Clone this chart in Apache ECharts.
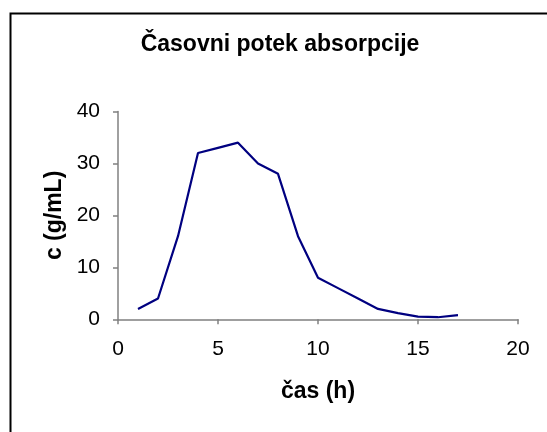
<!DOCTYPE html>
<html>
<head>
<meta charset="utf-8">
<script src="https://cdn.jsdelivr.net/npm/echarts@6/dist/echarts.min.js"></script>
<style>
  html, body { margin: 0; padding: 0; background: #fff; }
  #chart { width: 547px; height: 432px; }
</style>
</head>
<body>
<div id="chart"></div>
<script>
// čas (h) in koncentracija c (g/mL), odčitano s slike
var hours = [1, 2, 3, 4, 5, 6, 7, 8, 9, 10, 11, 12, 13, 14, 15, 16, 17];
var conc = [2, 4, 16, 32, 33, 34, 30, 28, 16, 8, 6, 4, 2, 1.2, 0.5, 0.4, 0.8];

var points = hours.map(function (h, i) { return [h, conc[i]]; });

var chart = echarts.init(document.getElementById('chart'));

var axisGray = '#808080';
var font = 'Liberation Sans, Arial, sans-serif';

chart.setOption({
  animation: false,
  backgroundColor: '#fff',
  graphic: [{
    type: 'rect',
    shape: { x: 10.5, y: 13.5, width: 600, height: 500 },
    style: { fill: 'none', stroke: '#000', lineWidth: 2 },
    silent: true
  }],
  title: {
    text: 'Časovni potek absorpcije',
    left: 275,
    top: 28,
    textAlign: 'center',
    textStyle: { fontFamily: font, fontSize: 23, fontWeight: 'bold', color: '#000' }
  },
  grid: { left: 118, right: 29, top: 111.5, bottom: 112.7 },
  xAxis: {
    type: 'value',
    min: 0,
    max: 20,
    interval: 5,
    name: 'čas (h)',
    nameLocation: 'middle',
    nameGap: 61,
    nameTextStyle: { fontFamily: font, fontSize: 23, fontWeight: 'bold', color: '#000' },
    axisLine: { show: true, lineStyle: { color: axisGray, width: 1.5 } },
    axisTick: { show: true, length: 5, inside: false, lineStyle: { color: axisGray, width: 1.5 } },
    axisLabel: { fontFamily: font, fontSize: 21, color: '#000', margin: 19 },
    splitLine: { show: false }
  },
  yAxis: {
    type: 'value',
    min: 0,
    max: 40,
    interval: 10,
    name: 'c (g/mL)',
    nameLocation: 'middle',
    nameGap: 52,
    nameTextStyle: { fontFamily: font, fontSize: 23, fontWeight: 'bold', color: '#000' },
    axisLine: { show: true, lineStyle: { color: axisGray, width: 1.5 } },
    axisTick: { show: true, length: 5, inside: false, lineStyle: { color: axisGray, width: 1.5 } },
    axisLabel: { fontFamily: font, fontSize: 21, color: '#000', margin: 18 },
    splitLine: { show: false }
  },
  series: [{
    type: 'line',
    data: points,
    showSymbol: false,
    symbol: 'none',
    lineStyle: { color: '#000080', width: 2.2 },
    silent: true
  }]
});
</script>
</body>
</html>
